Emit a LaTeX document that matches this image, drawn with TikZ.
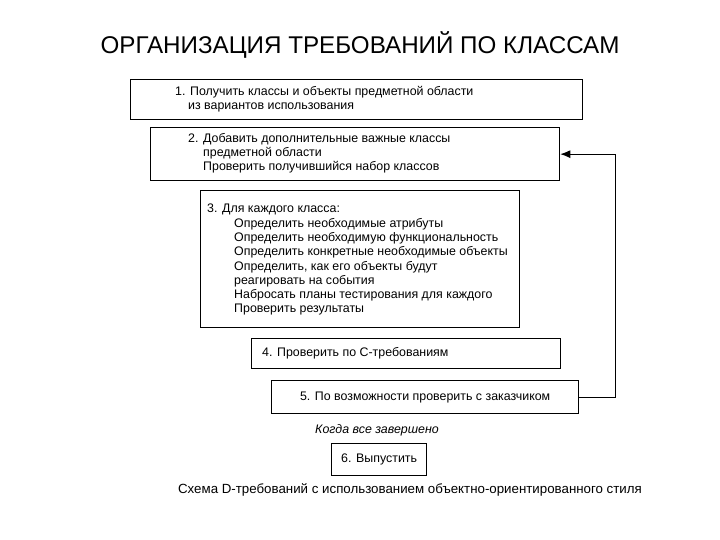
\documentclass[tikz,border=0pt]{standalone}
\usepackage{fontspec}
\setmainfont{Liberation Sans}
\usetikzlibrary{arrows.meta}

\begin{document}
\begin{tikzpicture}[x=1pt, y=-1pt,
		stage/.style={draw, line width=1.3pt, anchor=north west, inner sep=0pt},
		txt/.style={anchor=north west, inner sep=0pt, align=left, font=\fontsize{12.4}{14.3}\selectfont},
		note/.style={inner sep=0pt, font=\fontsize{12.4}{14.3}\selectfont}]
		\useasboundingbox (0,0) rectangle (720,540);
		% heading
		\node[font=\fontsize{24.2}{27}\selectfont] (title) at (360,45) {ОРГАНИЗАЦИЯ ТРЕБОВАНИЙ ПО КЛАССАМ};
		% stages
		\node[stage, minimum width=452, minimum height=40] (s1) at (130,79) {};
		\node[stage, minimum width=409, minimum height=53] (s2) at (150,127) {};
		\node[stage, minimum width=319, minimum height=137] (s3) at (200,190) {};
		\node[stage, minimum width=309, minimum height=30] (s4) at (251,338) {};
		\node[stage, minimum width=307, minimum height=33] (s5) at (271,380) {};
		\node[stage, minimum width=95, minimum height=32] (s6) at (331,443) {};
		% texts
		\node[txt] (t1) at (175,86) {1. Получить классы и объекты предметной области\\\hspace*{13pt}из вариантов использования};
		\node[txt] (t2) at (188,133) {2. Добавить дополнительные важные классы\\\hspace*{15pt}предметной области\\\hspace*{15pt}Проверить получившийся набор классов};
		\node[txt] (t3) at (207,204) {3. Для каждого класса:\\
			\hspace*{27pt}Определить необходимые атрибуты\\
			\hspace*{27pt}Определить необходимую функциональность\\
			\hspace*{27pt}Определить конкретные необходимые объекты\\
			\hspace*{27pt}Определить, как его объекты будут\\
			\hspace*{27pt}реагировать на события\\
			\hspace*{27pt}Набросать планы тестирования для каждого\\
			\hspace*{27pt}Проверить результаты};
		\node[note, anchor=west] (t4) at (262,353) {4. Проверить по С-требованиям};
		\node[note] (t5) at (s5.center) {5. По возможности проверить с заказчиком};
		\node[note] (t6) at (s6.center) {6. Выпустить};
		\node[note, font=\fontsize{12.4}{14.3}\itshape] (done) at (377,430) {Когда все завершено};
		\node[note, font=\fontsize{13.3}{15}\selectfont] (caption) at (410,490) {Схема D-требований с использованием объектно-ориентированного стиля};
		% feedback loop
		\draw[line width=1pt, -{Latex[length=10pt,width=8pt]}] (s5.east) -- ++(36,0) |- (s2.east);
	\end{tikzpicture}
\end{document}
